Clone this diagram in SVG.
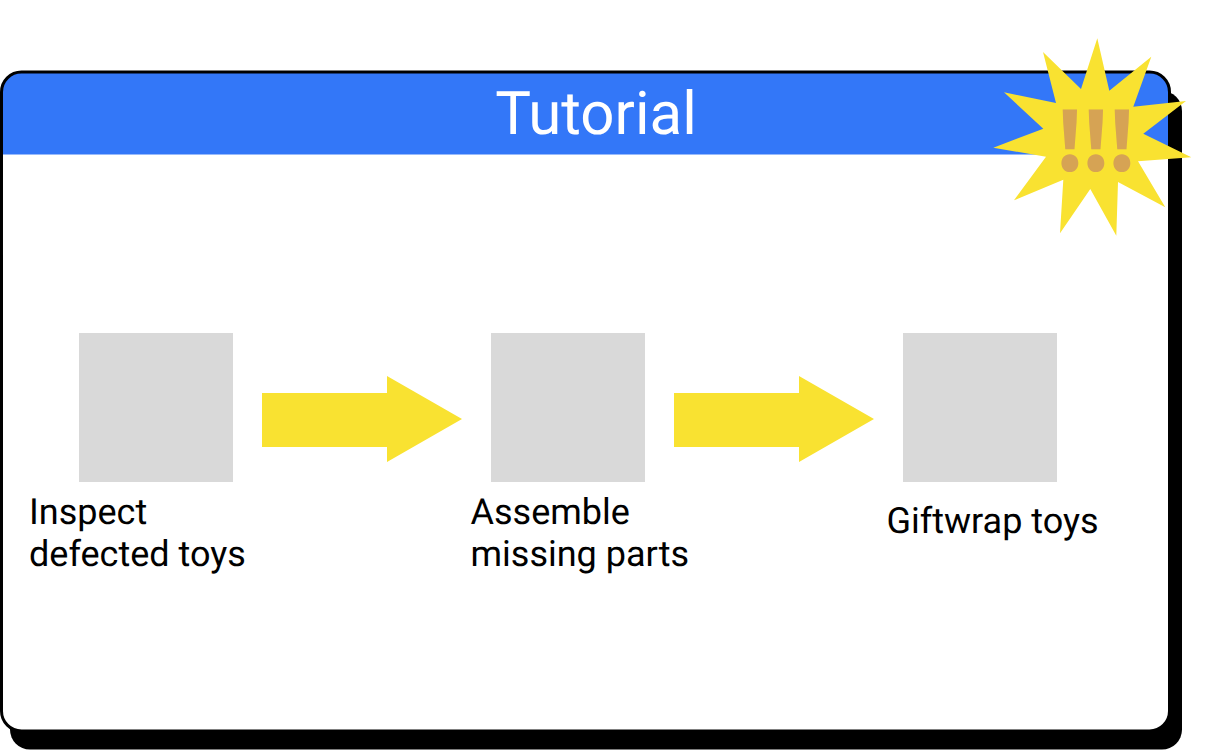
<svg xmlns="http://www.w3.org/2000/svg" width="1229" height="750" viewBox="0 0 1229 750">
<style>
.t{font-family:Roboto,"Liberation Sans",sans-serif;fill:#000;font-size:36px;text-rendering:geometricPrecision}
.box{fill:#d9d9d9}
.arrow{fill:#f9e231}
.bang{font-family:"Noto Sans CJK SC",Roboto,sans-serif;font-weight:900;font-size:80px;fill:#d6a354;text-anchor:middle}
</style>
<rect width="1229" height="750" fill="#fff"/>
<g id="panel">
<rect x="10" y="91" width="1172" height="658.500" rx="20" fill="#000"/>
<rect x="1.500" y="72" width="1168" height="659" rx="20" fill="#fff"/>
<path d="M1.500 154.500V92a20 20 0 0 1 20-20H1149.500a20 20 0 0 1 20 20V154.500Z" fill="#3377f8"/>
<rect x="1.500" y="72" width="1168" height="659" rx="20" fill="none" stroke="#000" stroke-width="3"/>
<text x="596" y="134" text-anchor="middle" font-family="Roboto,'Liberation Sans',sans-serif" font-size="60" fill="#fff" text-rendering="geometricPrecision">Tutorial</text>
</g>
<g id="burst">
<polygon fill="#f9e231" points="1097.300,38.300 1109.300,90.700 1151.300,56.700 1133.300,106.700 1186,101 1143.300,133.700 1191.300,157.300 1138,161.300 1165.300,207.300 1118,182 1116.300,235.700 1090.300,189 1060,233.300 1063.300,179.700 1014,200.300 1046,156.700 993.300,147.700 1043.300,128.700 1004,92.300 1056,103 1043,52 1081,89"/>
<text class="bang" x="1070 1096 1122" y="171">!!!</text>
</g>
<g id="step1"><rect class="box" x="79" y="333" width="154" height="149"/>
<text class="t" x="29" y="524">Inspect</text><text class="t" x="29" y="566">defected toys</text></g>
<g id="step2"><rect class="box" x="491" y="333" width="154" height="149"/>
<text class="t" x="470.500" y="524">Assemble</text><text class="t" x="470.500" y="566">missing parts</text></g>
<g id="step3"><rect class="box" x="903" y="333" width="154" height="149"/>
<text class="t" x="886.500" y="533">Giftwrap toys</text></g>
<g id="connectors">
<polygon class="arrow" points="262,393 387,393 387,376 462,419 387,462 387,447 262,447"/>
<polygon class="arrow" points="674,393 799,393 799,376 874,419 799,462 799,447 674,447"/>
</g>
</svg>
